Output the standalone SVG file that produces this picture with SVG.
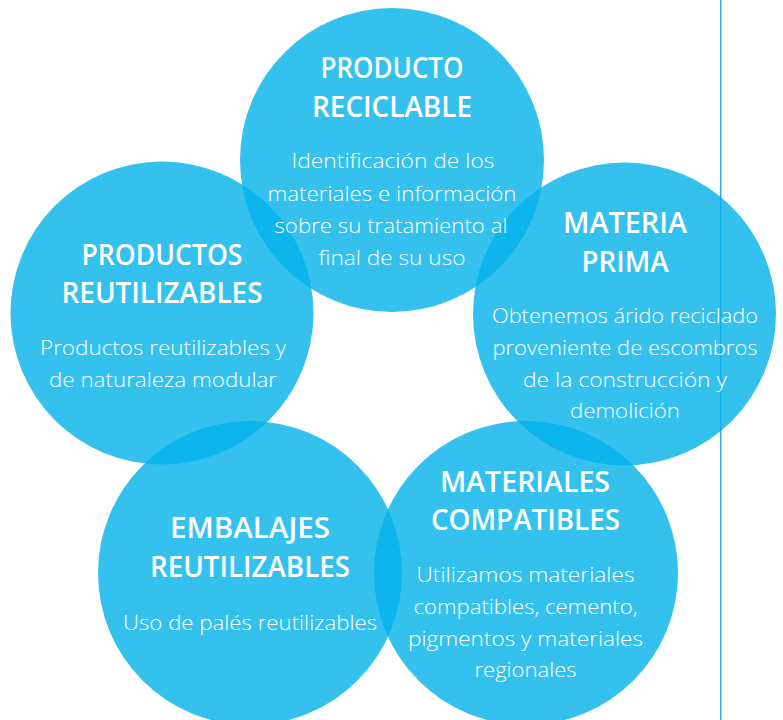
<svg xmlns="http://www.w3.org/2000/svg" width="783" height="720" viewBox="0 0 783 720">
<style>
.c{fill:#03b1ea;fill-opacity:0.8}
.t{font-family:"Open Sans","Liberation Sans",sans-serif;font-weight:600;font-size:28px;fill:#fff;text-anchor:middle}
.b{font-family:"Open Sans","Liberation Sans",sans-serif;font-weight:300;font-size:21px;fill:#fff;text-anchor:middle}
</style>
<rect width="783" height="720" fill="#fff"/>
<line x1="720.7" y1="0" x2="720.7" y2="720" stroke="#3aa9e0" stroke-width="1.5"/>
<g id="circles">
<circle id="circle-producto-reciclable" class="c" cx="392" cy="160" r="152"/>
<circle id="circle-materia-prima" class="c" cx="624.5" cy="314" r="151.5"/>
<circle id="circle-productos-reutilizables" class="c" cx="162" cy="313" r="151.5"/>
<circle id="circle-embalajes-reutilizables" class="c" cx="250" cy="573" r="152"/>
<circle id="circle-materiales-compatibles" class="c" cx="526" cy="573" r="152"/>
</g>
<g id="producto-reciclable">
<text class="t" x="392" y="78" textLength="143" lengthAdjust="spacingAndGlyphs">PRODUCTO</text>
<text class="t" x="392" y="117" textLength="160" lengthAdjust="spacingAndGlyphs">RECICLABLE</text>
<text class="b" x="393" y="168" textLength="203" lengthAdjust="spacingAndGlyphs">Identificación de los</text>
<text class="b" x="392" y="201" textLength="249" lengthAdjust="spacingAndGlyphs">materiales e información</text>
<text class="b" x="391" y="233" textLength="233" lengthAdjust="spacingAndGlyphs">sobre su tratamiento al</text>
<text class="b" x="392" y="265" textLength="147" lengthAdjust="spacingAndGlyphs">final de su uso</text>
</g>
<g id="materia-prima">
<text class="t" x="625" y="233" textLength="124" lengthAdjust="spacingAndGlyphs">MATERIA</text>
<text class="t" x="625" y="272" textLength="87" lengthAdjust="spacingAndGlyphs">PRIMA</text>
<text class="b" x="625" y="323" textLength="266" lengthAdjust="spacingAndGlyphs">Obtenemos árido reciclado</text>
<text class="b" x="625" y="355" textLength="265" lengthAdjust="spacingAndGlyphs">proveniente de escombros</text>
<text class="b" x="625" y="387" textLength="204" lengthAdjust="spacingAndGlyphs">de la construcción y</text>
<text class="b" x="625" y="418" textLength="110" lengthAdjust="spacingAndGlyphs">demolición</text>
</g>
<g id="productos-reutilizables">
<text class="t" x="162" y="265" textLength="161" lengthAdjust="spacingAndGlyphs">PRODUCTOS</text>
<text class="t" x="162" y="303" textLength="201" lengthAdjust="spacingAndGlyphs">REUTILIZABLES</text>
<text class="b" x="163" y="355" textLength="246" lengthAdjust="spacingAndGlyphs">Productos reutilizables y</text>
<text class="b" x="163" y="387" textLength="228" lengthAdjust="spacingAndGlyphs">de naturaleza modular</text>
</g>
<g id="embalajes-reutilizables">
<text class="t" x="250" y="538" textLength="160" lengthAdjust="spacingAndGlyphs">EMBALAJES</text>
<text class="t" x="250" y="577" textLength="200" lengthAdjust="spacingAndGlyphs">REUTILIZABLES</text>
<text class="b" x="250" y="630" textLength="254" lengthAdjust="spacingAndGlyphs">Uso de palés reutilizables</text>
</g>
<g id="materiales-compatibles">
<text class="t" x="525" y="492" textLength="170" lengthAdjust="spacingAndGlyphs">MATERIALES</text>
<text class="t" x="525.5" y="530" textLength="189" lengthAdjust="spacingAndGlyphs">COMPATIBLES</text>
<text class="b" x="525.5" y="582" textLength="218" lengthAdjust="spacingAndGlyphs">Utilizamos materiales</text>
<text class="b" x="525.5" y="614" textLength="224" lengthAdjust="spacingAndGlyphs">compatibles, cemento,</text>
<text class="b" x="525.5" y="646" textLength="235" lengthAdjust="spacingAndGlyphs">pigmentos y materiales</text>
<text class="b" x="525.5" y="677" textLength="102" lengthAdjust="spacingAndGlyphs">regionales</text>
</g>
<g id="connectors"/>
</svg>
